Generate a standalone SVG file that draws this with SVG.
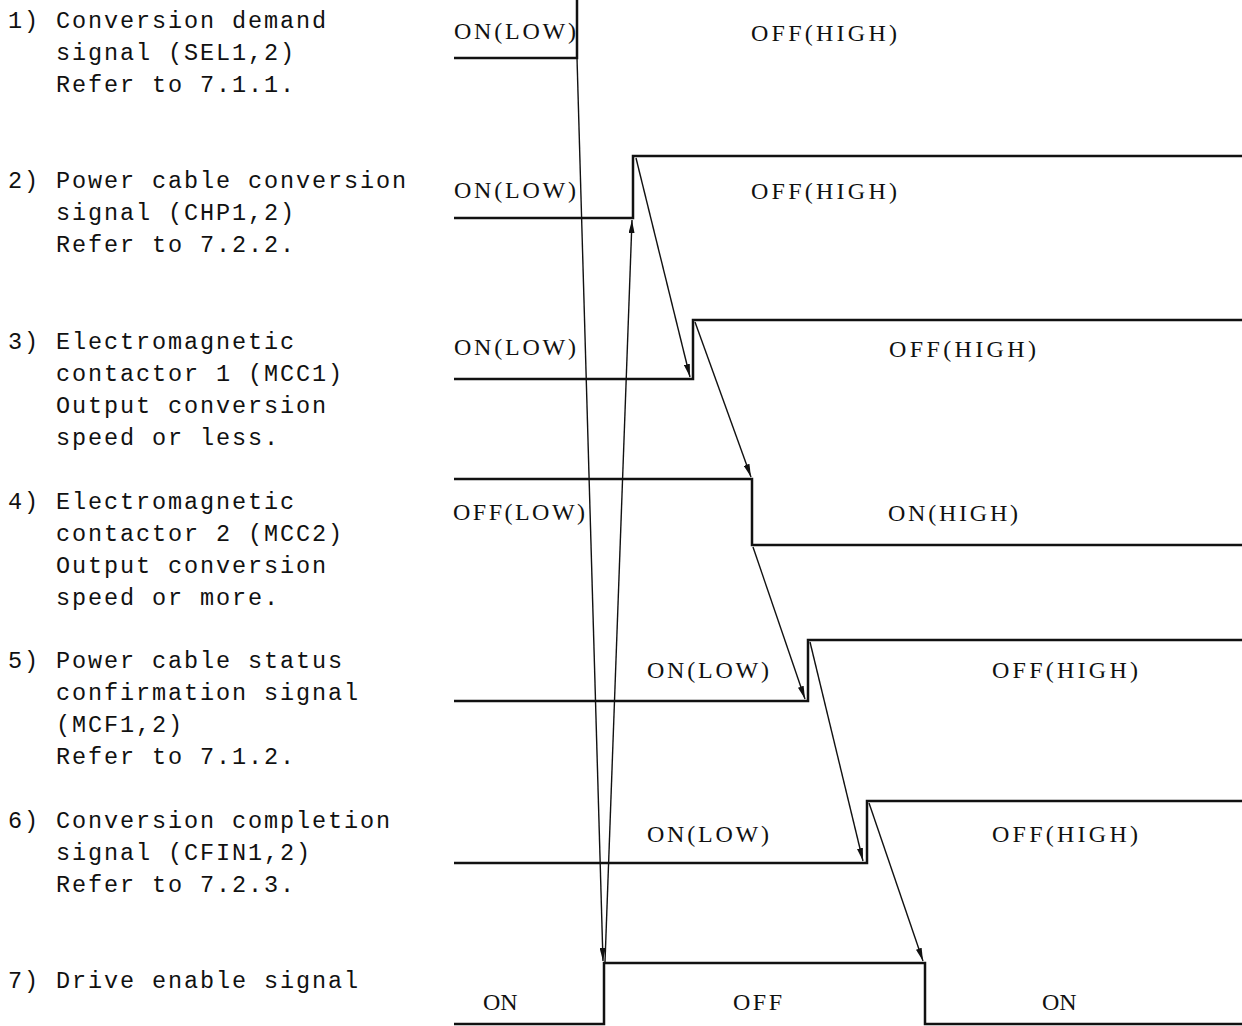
<svg xmlns="http://www.w3.org/2000/svg" width="1242" height="1026" viewBox="0 0 1242 1026">
<style>
.lbl{font-family:"Liberation Mono",monospace;font-size:23.5px;letter-spacing:1.9px;fill:#111}
.st{font-family:"Liberation Serif",serif;font-size:24px;fill:#111}
.sig{fill:none;stroke:#111;stroke-width:2.5;stroke-linejoin:miter}
.arr{fill:none;stroke:#111;stroke-width:1.4;marker-end:url(#ah)}
</style>
<defs>
<marker id="ah" markerUnits="userSpaceOnUse" markerWidth="13" markerHeight="6" refX="13" refY="3" orient="auto">
<path d="M0,0 L13,3 L0,6 z" fill="#111"/>
</marker>
</defs>
<rect width="1242" height="1026" fill="#fff"/>
<g id="labels">
<g id="label1">
<text class="lbl" x="8" y="28">1) Conversion demand</text>
<text class="lbl" x="56" y="60">signal (SEL1,2)</text>
<text class="lbl" x="56" y="92">Refer to 7.1.1.</text>
</g>
<g id="label2">
<text class="lbl" x="8" y="188">2) Power cable conversion</text>
<text class="lbl" x="56" y="220">signal (CHP1,2)</text>
<text class="lbl" x="56" y="252">Refer to 7.2.2.</text>
</g>
<g id="label3">
<text class="lbl" x="8" y="349">3) Electromagnetic</text>
<text class="lbl" x="56" y="381">contactor 1 (MCC1)</text>
<text class="lbl" x="56" y="413">Output conversion</text>
<text class="lbl" x="56" y="445">speed or less.</text>
</g>
<g id="label4">
<text class="lbl" x="8" y="509">4) Electromagnetic</text>
<text class="lbl" x="56" y="541">contactor 2 (MCC2)</text>
<text class="lbl" x="56" y="573">Output conversion</text>
<text class="lbl" x="56" y="605">speed or more.</text>
</g>
<g id="label5">
<text class="lbl" x="8" y="668">5) Power cable status</text>
<text class="lbl" x="56" y="700">confirmation signal</text>
<text class="lbl" x="56" y="732">(MCF1,2)</text>
<text class="lbl" x="56" y="764">Refer to 7.1.2.</text>
</g>
<g id="label6">
<text class="lbl" x="8" y="828">6) Conversion completion</text>
<text class="lbl" x="56" y="860">signal (CFIN1,2)</text>
<text class="lbl" x="56" y="892">Refer to 7.2.3.</text>
</g>
<g id="label7">
<text class="lbl" x="8" y="988">7) Drive enable signal</text>
</g>
</g>
<g id="signal1">
<polyline class="sig" points="454,58 577,58 577,0"/>
<text class="st" x="454" y="39" textLength="122" lengthAdjust="spacing">ON(LOW)</text>
<text class="st" x="751" y="41" textLength="146" lengthAdjust="spacing">OFF(HIGH)</text>
</g>
<g id="signal2">
<polyline class="sig" points="454,218 633,218 633,156 1242,156"/>
<text class="st" x="454" y="198" textLength="122" lengthAdjust="spacing">ON(LOW)</text>
<text class="st" x="751" y="199" textLength="146" lengthAdjust="spacing">OFF(HIGH)</text>
</g>
<g id="signal3">
<polyline class="sig" points="454,379 693,379 693,320 1242,320"/>
<text class="st" x="454" y="355" textLength="122" lengthAdjust="spacing">ON(LOW)</text>
<text class="st" x="889" y="357" textLength="147" lengthAdjust="spacing">OFF(HIGH)</text>
</g>
<g id="signal4">
<polyline class="sig" points="454,479 752,479 752,545 1242,545"/>
<text class="st" x="453" y="520" textLength="132" lengthAdjust="spacing">OFF(LOW)</text>
<text class="st" x="888" y="521" textLength="130" lengthAdjust="spacing">ON(HIGH)</text>
</g>
<g id="signal5">
<polyline class="sig" points="454,701 808,701 808,640 1242,640"/>
<text class="st" x="647" y="678" textLength="122" lengthAdjust="spacing">ON(LOW)</text>
<text class="st" x="992" y="678" textLength="146" lengthAdjust="spacing">OFF(HIGH)</text>
</g>
<g id="signal6">
<polyline class="sig" points="454,863 867,863 867,801 1242,801"/>
<text class="st" x="647" y="842" textLength="122" lengthAdjust="spacing">ON(LOW)</text>
<text class="st" x="992" y="842" textLength="146" lengthAdjust="spacing">OFF(HIGH)</text>
</g>
<g id="signal7">
<polyline class="sig" points="454,1024 604,1024 604,963 925,963 925,1024 1242,1024"/>
<text class="st" x="483" y="1010">ON</text>
<text class="st" x="733" y="1010" textLength="49" lengthAdjust="spacing">OFF</text>
<text class="st" x="1042" y="1010">ON</text>
</g>
<g id="connectors">
<line class="arr" x1="577" y1="58" x2="603" y2="961"/>
<line class="arr" x1="605" y1="962" x2="632" y2="220"/>
<line class="arr" x1="636" y1="158" x2="690" y2="377"/>
<line class="arr" x1="695" y1="322" x2="751" y2="477"/>
<line class="arr" x1="753" y1="547" x2="805" y2="699"/>
<line class="arr" x1="810" y1="642" x2="863" y2="861"/>
<line class="arr" x1="869" y1="803" x2="923" y2="961"/>
</g>
</svg>
